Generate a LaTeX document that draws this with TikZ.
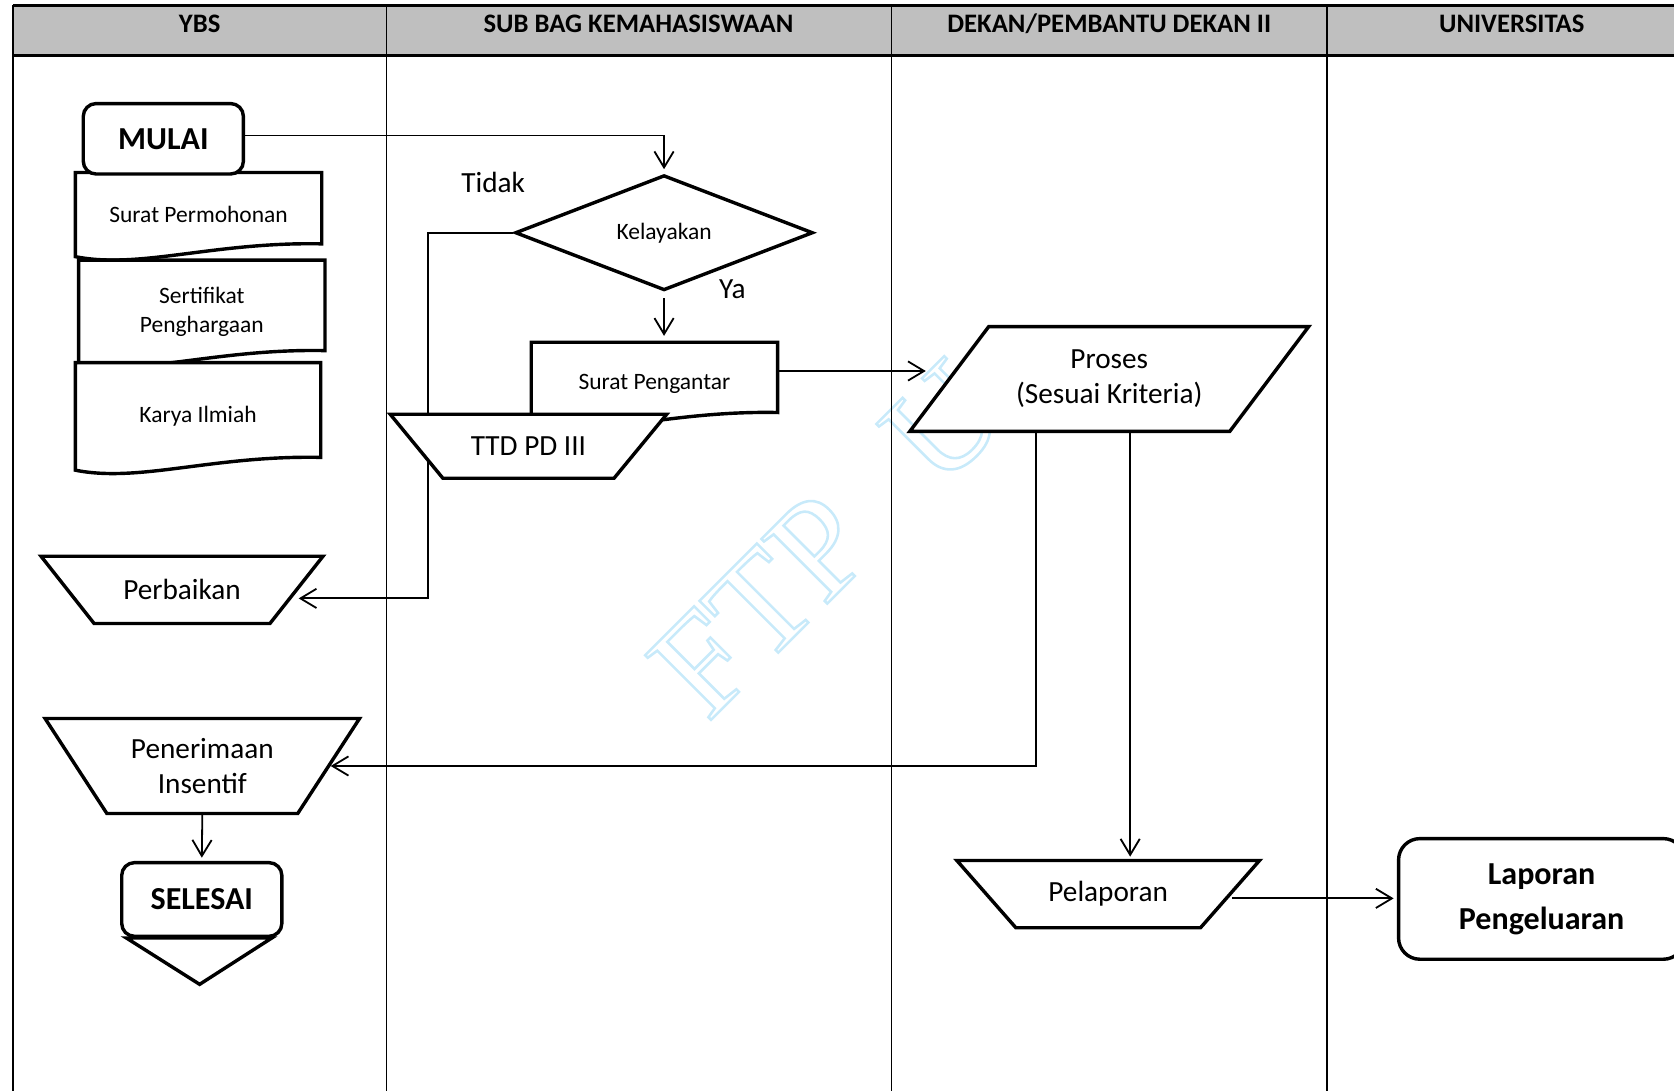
\documentclass[tikz,border=0pt]{standalone}
\usepackage{fontspec}
\setmainfont{Carlito}
\newfontfamily\markfont{Liberation Serif}
\usetikzlibrary{shapes.geometric,arrows.meta,calc}
\pgfdeclarelayer{back}
\pgfsetlayers{back,main}
\definecolor{headgray}{RGB}{191,191,191}
\definecolor{markblue}{RGB}{200,234,250}
\newcommand{\hollow}[1]{\special{pdf:code 1 Tr 1.2 w}#1\special{pdf:code 0 Tr}}
\tikzset{
	lane/.style={line width=0.8pt},
	shapeline/.style={draw, line width=1.6pt, fill=white},
	flow/.style={line width=0.85pt, -{Straight Barb[length=7.5pt,width=9pt]}},
	head/.style={font=\fontsize{12.5}{15}\selectfont\bfseries, anchor=base},
	small/.style={font=\fontsize{11}{13.5}\selectfont},
	medium/.style={font=\fontsize{13.7}{16.5}\selectfont},
	startstop/.style={shapeline, rectangle, rounded corners=6pt, inner sep=0pt, minimum width=75pt, align=center, font=\fontsize{15}{21}\selectfont\bfseries},
	document/.style={small, inner sep=0pt, minimum width=115pt, align=center},
	manual/.style={shapeline, medium, trapezium, trapezium stretches, trapezium left angle=#1, trapezium right angle=#1, inner sep=1pt, align=center},
	decision/.style={shapeline, small, diamond, inner sep=0pt, minimum width=139.5pt, minimum height=52pt},
	inout/.style={shapeline, medium, trapezium, trapezium stretches, trapezium left angle=45, trapezium right angle=135, inner sep=1pt, align=center},
}
\begin{document}
\begin{tikzpicture}[x=0.5pt, y=-0.5pt]
	\useasboundingbox (0,0) rectangle (1568,1022);
	% watermark
	\node[text=markblue, rotate=45, font=\markfont\fontsize{66}{66}\selectfont] (mark) at (775,505) {\hollow{FTP\hspace{40pt}U}};
	% swimlanes
	\fill[headgray] (12,5) rectangle (1568,52);
	\draw[line width=1.1pt] (12,5) -- (1568,5) (12,52) -- (1568,52);
	\foreach \x in {12,362,835,1243}
		\draw[lane] (\x,5) -- (\x,1022);
	\node[head] (ybs) at (187,30) {YBS};
	\node[head] (subbag) at (598,30) {SUB BAG KEMAHASISWAAN};
	\node[head] (dekan) at (1039,30) {DEKAN/PEMBANTU DEKAN II};
	\node[head] (univ) at (1416,30) {UNIVERSITAS};

	% YBS
	\node[startstop, minimum height=33pt] (mulai) at (153,130) {MULAI};
	\node[document, minimum height=39pt] (permohonan) at (186,201) {Surat Permohonan};
	\node[document, minimum height=48pt] (sertifikat) at (189,292) {Sertifikat\\Penghargaan};
	\node[document, minimum width=114.5pt, minimum height=50pt] (karya) at (185.5,390) {Karya Ilmiah};
	\node[manual=146, minimum width=132.5pt, minimum height=31.5pt] (perbaikan) at (170.5,552.5) {Perbaikan};
	\node[manual=128.5, minimum width=147.5pt, minimum height=44.5pt] (penerimaan) at (189.5,717.5) {Penerimaan\\Insentif};
	\node[startstop, minimum height=34.5pt] (selesai) at (189,842.5) {SELESAI};
	\coordinate (selesaitip) at (187,922);
	\draw[shapeline] ([xshift=3pt]selesai.south west) -- (selesaitip) -- ([xshift=-5.5pt]selesai.south east) -- cycle;

	% sub bag kemahasiswaan
	\node[decision] (kelayakan) at (622,218) {Kelayakan};
	\node[medium] (tidak) at (462,171) {Tidak};
	\node[medium] (ya) at (686,271) {Ya};
	\node[document, minimum height=38.5pt] (pengantar) at (613,359.5) {Surat Pengantar};

	% dekan, universitas
	\node[inout, minimum width=187pt, minimum height=49pt] (proses) at (1039,355) {Proses\\(Sesuai Kriteria)};
	\node[manual=143.5, minimum width=142pt, minimum height=31.5pt] (pelaporan) at (1038,837.5) {Pelaporan};
	\node[startstop, rounded corners=10pt, minimum width=134pt, minimum height=56.5pt] (laporan) at (1444,842) {Laporan\\Pengeluaran};

	% document outlines
	\begin{pgfonlayer}{back}
		\foreach \d in {permohonan,sertifikat,karya,pengantar}
			\draw[shapeline] (\d.north west) -- (\d.north east) -- ($(\d.south east)+(0,-12)$)
				.. controls ($(\d.south east)!0.44!(\d.south west)+(0,-14)$) and ($(\d.south east)!0.74!(\d.south west)+(0,12)$) .. (\d.south west) -- cycle;
	\end{pgfonlayer}

	% connectors
	\draw[flow, shorten >=2pt] ([yshift=1.5pt]mulai.east) -| (kelayakan.north);
	\draw[flow, shorten <=3pt, shorten >=3pt] (kelayakan.south) -- (kelayakan.south |- pengantar.north);
	\draw[flow] (kelayakan.west) -- ++(-80,0) |- ([yshift=-4pt]perbaikan.east);
	\coordinate (pengout) at ([yshift=6pt]pengantar.east);
	\draw[flow, shorten >=10pt] (pengout) -- (pengout -| proses.west);
	\coordinate (prosesA) at ($(proses.bottom left corner)!0.4!(proses.bottom right corner)$);
	\coordinate (prosesB) at ($(proses.bottom left corner)!0.69!(proses.bottom right corner)$);
	\draw[flow] (prosesA) |- (penerimaan.east);
	\draw[flow, shorten >=1pt] (prosesB) -- (prosesB |- pelaporan.north);
	\draw[flow, shorten >=1.5pt] (penerimaan.south) -- (selesai.north);
	\draw[flow, shorten >=1.5pt] ([yshift=-2pt]pelaporan.east) -- ([yshift=-2pt]pelaporan.east -| laporan.west);

	% drawn last, it hides the Tidak line
	\node[manual=148, minimum width=130pt, minimum height=30pt] (ttd) at (495,418) {TTD PD III};
\end{tikzpicture}
\end{document}
